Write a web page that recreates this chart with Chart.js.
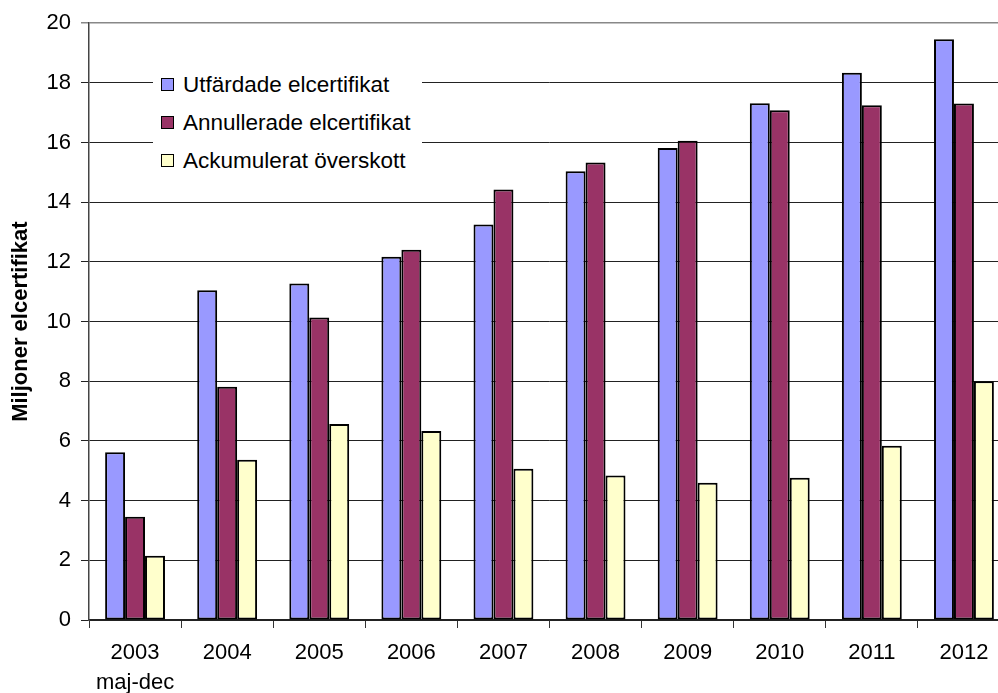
<!DOCTYPE html>
<html>
<head>
<meta charset="utf-8">
<title>Elcertifikat</title>
<script src="https://cdn.jsdelivr.net/npm/chart.js@4/dist/chart.umd.min.js"></script>
<style>
  html, body { margin: 0; padding: 0; overflow: hidden; background: #fff; }
  #wrap { position: relative; width: 1010px; height: 693px; }
  #legend {
    position: absolute; left: 153px; top: 64px; width: 269px; height: 114px;
    background: #fff; font-family: Arial, "Liberation Sans", sans-serif; font-size: 22.5px; color: #000;
  }
  #legend .item { position: absolute; left: 8px; height: 26px; line-height: 26px; white-space: nowrap; }
  #legend .box {
    position: absolute; left: 0; top: 6px; width: 11px; height: 11px; border: 1.5px solid #000;
  }
  #legend .txt { position: absolute; left: 22px; top: 0; }
</style>
</head>
<body>
<div id="wrap">
  <canvas id="elChart" width="1010" height="693"></canvas>
  <div id="legend"></div>
</div>
<script>
// --- data ---
const years = [['2003', 'maj-dec'], '2004', '2005', '2006', '2007', '2008', '2009', '2010', '2011', '2012'];
const utfardade = [5.62, 11.05, 11.28, 12.17, 13.25, 15.04, 15.82, 17.32, 18.34, 19.46];
const annullerade = [3.46, 7.82, 10.14, 12.41, 14.43, 15.33, 16.06, 17.08, 17.25, 17.31];
const overskott = [2.15, 5.37, 6.57, 6.33, 5.07, 4.84, 4.6, 4.77, 5.84, 8.0];
const seriesNames = ['Utfärdade elcertifikat', 'Annullerade elcertifikat', 'Ackumulerat överskott'];
const yTicks = [0, 2, 4, 6, 8, 10, 12, 14, 16, 18, 20];

const font = 'Arial, "Liberation Sans", sans-serif';

const ctx = document.getElementById('elChart').getContext('2d');

const chart = new Chart(ctx, {
    type: 'bar',
    data: {
        labels: years,
        datasets: [
            { label: seriesNames[0], data: utfardade, backgroundColor: '#9999FF' },
            { label: seriesNames[1], data: annullerade, backgroundColor: '#993366' },
            { label: seriesNames[2], data: overskott, backgroundColor: '#FFFFCC' }
        ].map(function(d) {
            return Object.assign(d, {
                borderColor: '#000',
                borderWidth: 2,
                borderSkipped: false,
                barPercentage: 1.0,
                categoryPercentage: 0.65
            });
        })
    },
    options: {
        responsive: false,
        animation: false,
        layout: { padding: { top: 23, left: 0, right: 0, bottom: 0 } },
        plugins: {
            legend: { display: false },
            tooltip: { enabled: false }
        },
        scales: {
            x: {
                grid: {
                    offset: true,
                    drawOnChartArea: false,
                    drawTicks: true,
                    tickLength: 8,
                    color: '#333'
                },
                border: { color: '#222', width: 1.5 },
                ticks: {
                    color: '#000',
                    padding: 10,
                    maxRotation: 0,
                    font: { family: font, size: 22, lineHeight: 1.364 }
                },
                afterFit: function(scale) { scale.height = 73; }
            },
            y: {
                min: 0,
                max: 20,
                afterBuildTicks: function(scale) {
                    scale.ticks = yTicks.map(function(v) { return { value: v }; });
                },
                grid: {
                    color: function(c) { return c.tick && c.tick.value === 20 ? '#888' : '#222'; },
                    lineWidth: function(c) { return c.tick && c.tick.value === 20 ? 1.5 : 1; },
                    tickLength: 8
                },
                border: { color: '#444', width: 1.5 },
                ticks: {
                    color: '#000',
                    padding: 10,
                    font: { family: font, size: 22 }
                },
                title: {
                    display: true,
                    text: 'Miljoner elcertifikat',
                    color: '#000',
                    padding: { top: 8, bottom: 0 },
                    font: { family: font, size: 22, weight: 'bold' }
                },
                afterFit: function(scale) { scale.width = 89; }
            }
        }
    }
});

// legend built from the chart's datasets, drawn over the grid like the original
const legendEl = document.getElementById('legend');
chart.data.datasets.forEach(function(ds, i) {
    const item = document.createElement('div');
    item.className = 'item';
    item.style.top = (8 + i * 38) + 'px';
    const box = document.createElement('span');
    box.className = 'box';
    box.style.background = ds.backgroundColor;
    const txt = document.createElement('span');
    txt.className = 'txt';
    txt.textContent = ds.label;
    item.appendChild(box);
    item.appendChild(txt);
    legendEl.appendChild(item);
});
</script>
</body>
</html>
